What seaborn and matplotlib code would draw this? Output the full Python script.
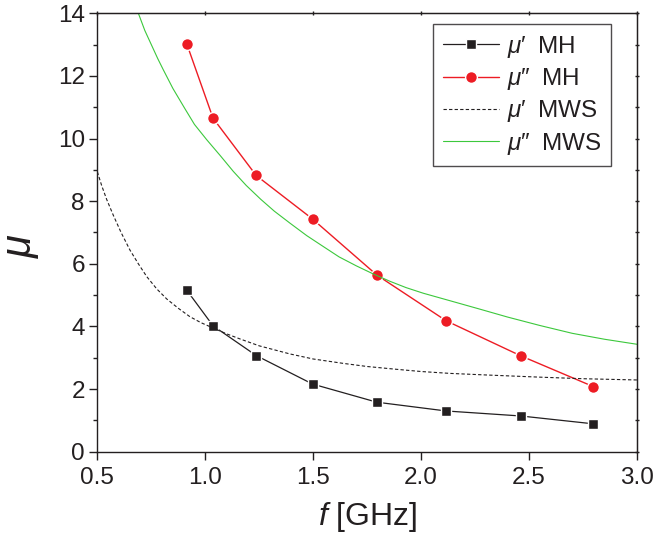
import matplotlib
matplotlib.use("Agg")
import matplotlib.pyplot as plt
import seaborn as sns
import numpy as np
from matplotlib.ticker import MultipleLocator

sns.set_style("ticks")
plt.rcParams['font.family'] = ['Liberation Sans', 'DejaVu Sans']
plt.rcParams['mathtext.fontset'] = 'custom'
plt.rcParams['mathtext.it'] = 'Liberation Sans:italic'
plt.rcParams['mathtext.rm'] = 'Liberation Sans'

# Measured data (MH)
freq_mh = [0.915, 1.036, 1.236, 1.497, 1.795, 2.116, 2.462, 2.797]
mu1_mh = [5.15, 4.02, 3.07, 2.16, 1.58, 1.30, 1.14, 0.89]
mu2_mh = [13.01, 10.65, 8.82, 7.43, 5.64, 4.18, 3.06, 2.08]

# Simulated curves (MWS)
freq_mws1 = [0.5, 0.52, 0.543, 0.574, 0.61, 0.651, 0.69, 0.729, 0.775, 0.821,
             0.875, 0.929, 0.98, 1.036, 1.1, 1.161, 1.25, 1.393, 1.5, 1.639,
             1.75, 1.887, 2.0, 2.134, 2.3, 2.55, 2.75, 3.0]
mu1_mws = [8.94, 8.5, 8.06, 7.55, 7.0, 6.44, 6.0, 5.59, 5.2, 4.88,
           4.58, 4.31, 4.12, 3.95, 3.76, 3.6, 3.38, 3.12, 2.96, 2.82,
           2.72, 2.63, 2.56, 2.50, 2.45, 2.38, 2.33, 2.29]
freq_mws2 = [0.69, 0.72, 0.75, 0.78, 0.806, 0.85, 0.906, 0.95, 1.007, 1.07,
             1.13, 1.19, 1.257, 1.32, 1.392, 1.47, 1.547, 1.62, 1.701, 1.78,
             1.856, 1.93, 2.01, 2.134, 2.273, 2.4, 2.55, 2.7, 2.85, 3.0]
mu2_mws = [14.0, 13.45, 13.0, 12.55, 12.19, 11.6, 10.95, 10.45, 9.96, 9.45,
           8.95, 8.5, 8.06, 7.68, 7.3, 6.9, 6.55, 6.22, 5.93, 5.67,
           5.44, 5.24, 5.06, 4.82, 4.55, 4.3, 4.03, 3.78, 3.59, 3.43]

labels = ["$\\mu$\u2032\u2002MH", "$\\mu$\u2033\u2002MH",
          "$\\mu$\u2032\u2002MWS", "$\\mu$\u2033\u2002MWS"]
x_ticks = [0.5, 1.0, 1.5, 2.0, 2.5, 3.0]
y_ticks = [0, 2, 4, 6, 8, 10, 12, 14]

dark = '#231f20'
red = '#ed1c24'
green = '#3cc83c'

fig = plt.figure(figsize=(6.55, 5.44), dpi=100)
ax = fig.add_axes([0.1486, 0.1697, 0.9725 - 0.1486, 0.9756 - 0.1697])

sns.lineplot(x=freq_mh, y=mu1_mh, ax=ax, color=dark, lw=0.9, marker='s',
             markersize=7, markerfacecolor=dark, markeredgecolor='white',
             markeredgewidth=1.0, label=labels[0], sort=False)
sns.lineplot(x=freq_mh, y=mu2_mh, ax=ax, color=red, lw=1.0, marker='o',
             markersize=8.5, markerfacecolor=red, markeredgecolor='white',
             markeredgewidth=1.0, label=labels[1], sort=False)
sns.lineplot(x=freq_mws1, y=mu1_mws, ax=ax, color=dark, lw=0.8,
             linestyle=(0, (3, 2)), label=labels[2], sort=False)
sns.lineplot(x=freq_mws2, y=mu2_mws, ax=ax, color=green, lw=0.8,
             label=labels[3], sort=False)

ax.set_xlim(0.5, 3.0)
ax.set_ylim(0, 14)
ax.set_xticks(x_ticks)
ax.set_xticklabels([f"{v:.1f}" for v in x_ticks])
ax.set_yticks(y_ticks)
ax.set_yticklabels([str(v) for v in y_ticks])
ax.yaxis.set_minor_locator(MultipleLocator(1))

for s in ax.spines.values():
    s.set_linewidth(1.0)
    s.set_color(dark)
    s.set_visible(True)

ax.tick_params(axis='both', which='major', direction='out', length=6, width=1.0,
               color=dark, labelsize=17.5, labelcolor=dark)
ax.tick_params(axis='y', which='minor', direction='out', length=3, width=1.0, color=dark)
ax.tick_params(axis='y', which='both', pad=3)
ax.tick_params(axis='x', which='major', pad=5)

# mirrored short ticks on top / right
axt = ax.secondary_xaxis('top')
axt.set_xticks(x_ticks)
axt.tick_params(direction='inout', length=3, width=1.0, color=dark, labeltop=False)
axt.set_xticklabels([])
axr = ax.secondary_yaxis('right')
axr.set_yticks(y_ticks)
axr.yaxis.set_minor_locator(MultipleLocator(1))
axr.tick_params(which='both', direction='inout', length=3, width=1.0, color=dark)
axr.set_yticklabels([])

ax.set_xlabel(r"$f$ [GHz]", fontsize=23, color=dark, labelpad=8)
ax.set_ylabel(r"$\mu$", fontsize=30, color=dark, rotation=90)
ax.yaxis.set_label_coords(-0.105, 0.47)

leg = ax.legend(loc='upper right', bbox_to_anchor=(0.952, 0.9756), borderaxespad=0,
                fontsize=17.5, frameon=True, fancybox=False, shadow=False,
                handlelength=2.3, handletextpad=0.33, labelspacing=0.26,
                borderpad=0.4, numpoints=1)
leg.get_frame().set_edgecolor(dark)
leg.get_frame().set_linewidth(1.0)
for t in leg.get_texts():
    t.set_color(dark)

fig.savefig("out.png", dpi=100)
